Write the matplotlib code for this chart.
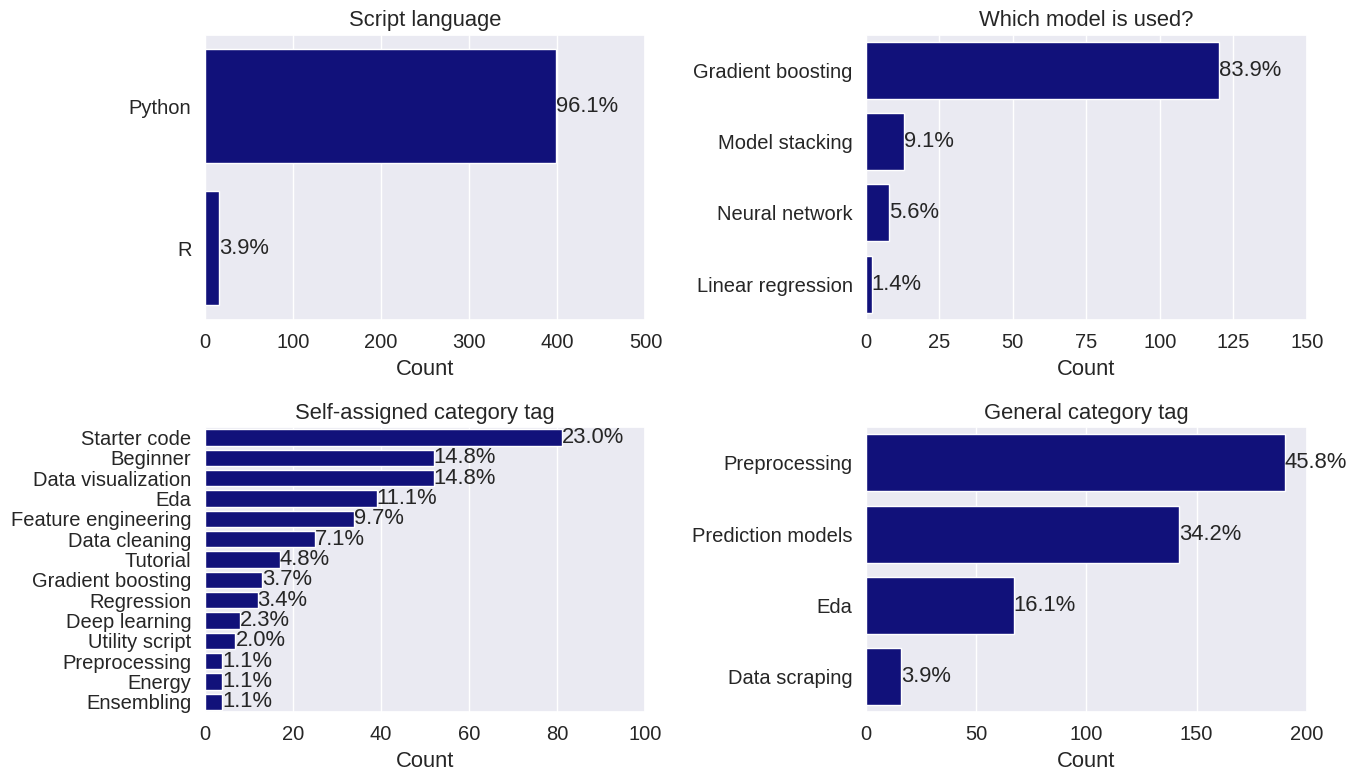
import matplotlib
matplotlib.use('Agg')
import matplotlib.pyplot as plt
import seaborn as sns
import numpy as np

# ================= Data =================
lang_labels = ['Python', 'R']
lang_counts = [399, 16]

model_labels = ['Gradient boosting', 'Model stacking', 'Neural network', 'Linear regression']
model_counts = [120, 13, 8, 2]

self_tag_labels = ['Starter code', 'Beginner', 'Data visualization', 'Eda',
                   'Feature engineering', 'Data cleaning', 'Tutorial',
                   'Gradient boosting', 'Regression', 'Deep learning',
                   'Utility script', 'Preprocessing', 'Energy', 'Ensembling']
self_tag_counts = [81, 52, 52, 39, 34, 25, 17, 13, 12, 8, 7, 4, 4, 4]

general_tag_labels = ['Preprocessing', 'Prediction models', 'Eda', 'Data scraping']
general_tag_counts = [190, 142, 67, 16]

# ================= Style =================
sns.set_theme(style='darkgrid')
plt.rcParams['font.family'] = ['Liberation Sans', 'DejaVu Sans']
bar_color = '#11117a'
fs_tick = 14.5   # tick labels
fs_text = 15.8   # titles, axis labels, percentages

panels = [
    ('Script language', lang_labels, lang_counts, (0, 500), [0, 100, 200, 300, 400, 500]),
    ('Which model is used?', model_labels, model_counts, (0, 150), [0, 25, 50, 75, 100, 125, 150]),
    ('Self-assigned category tag', self_tag_labels, self_tag_counts, (0, 100), [0, 20, 40, 60, 80, 100]),
    ('General category tag', general_tag_labels, general_tag_counts, (0, 200), [0, 50, 100, 150, 200]),
]

fig, axes = plt.subplots(2, 2, figsize=(13.64, 7.74), dpi=100)
fig.subplots_adjust(left=0.150, right=0.958, top=0.955, bottom=0.080, wspace=0.5, hspace=0.378)

for ax, (title, labels, counts, xlim, xticks) in zip(axes.flat, panels):
    pos = np.arange(len(labels))
    ax.barh(pos, counts, height=0.8, color=bar_color, edgecolor='white', linewidth=1)
    total = sum(counts)
    for p, c in zip(pos, counts):
        ax.text(c, p, '%.1f%%' % (100.0 * c / total), ha='left', va='center',
                fontsize=fs_text, color='#262626')
    ax.set_yticks(pos)
    ax.set_yticklabels(labels, fontsize=fs_tick)
    ax.set_ylim(len(labels) - 0.5, -0.5)
    ax.set_xlim(*xlim)
    ax.set_xticks(xticks)
    ax.tick_params(axis='x', labelsize=fs_tick)
    ax.set_xlabel('Count', fontsize=fs_text, labelpad=5)
    ax.set_title(title, fontsize=fs_text)
    ax.grid(axis='y', visible=False)

fig.savefig('out.png', dpi=100)
